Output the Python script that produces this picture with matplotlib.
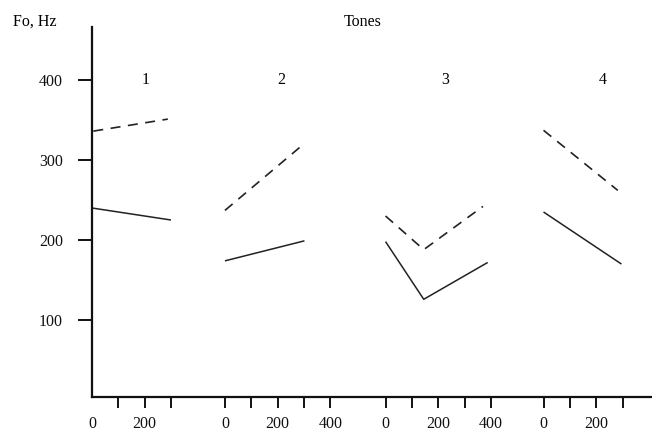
import numpy as np
import matplotlib
matplotlib.use("Agg")
import matplotlib.pyplot as plt

plt.rcParams['font.family'] = ['Liberation Serif', 'DejaVu Serif']

# time (ms within each tone) and Fo (Hz) for the two speakers
tone_names = ['1', '2', '3', '4']
group_offsets = [0, 505, 1115, 1715]

solid_t = [[0, 300], [0, 302], [0, 145, 388], [0, 296]]
solid_f = [[240, 225], [174, 199], [198, 126, 172], [235, 170]]
dashed_t = [[5, 288], [0, 296], [0, 145, 370], [0, 282]]
dashed_f = [[336, 351], [237, 319], [230, 188, 242], [337, 262]]

tick_sets = [[0, 100, 200, 300], [0, 100, 200, 300, 400],
             [0, 100, 200, 300, 400], [0, 100, 200, 300]]
label_pos = [203, 212, 228, 224]

fig = plt.figure(figsize=(6.52, 4.32), dpi=100)
ax = fig.add_axes([92 / 652, 35 / 432, 560 / 652, 370 / 432])

for i in range(4):
    off = group_offsets[i]
    ax.plot(np.array(solid_t[i]) + off, solid_f[i], color='#222222', lw=1.1,
            solid_capstyle='butt')
    ax.plot(np.array(dashed_t[i]) + off, dashed_f[i], color='#222222', lw=1.2,
            dashes=(6, 4.5))
    ax.text(label_pos[i] + off, 400, tone_names[i], ha='center', va='center',
            fontsize=11.5)

xt, xl = [], []
for i in range(4):
    for t in tick_sets[i]:
        xt.append(t + group_offsets[i])
        xl.append(str(t) if t % 200 == 0 else '')
ax.set_xticks(xt)
ax.set_xticklabels(xl)
ax.set_yticks([100, 200, 300, 400])

ax.set_xlim(0, 2127)
ax.set_ylim(4, 466)

for s in ['top', 'right']:
    ax.spines[s].set_visible(False)
for s in ['left', 'bottom']:
    ax.spines[s].set_linewidth(1.6)
    ax.spines[s].set_color('#111111')

ax.tick_params(axis='y', direction='out', length=10, width=1.4, pad=11,
               labelsize=11.5, colors='#111111')
ax.tick_params(axis='x', direction='out', length=8, width=1.4, pad=6,
               labelsize=11.5, colors='#111111')
# the tick at the origin is hidden under the corner in the original
ax.xaxis.get_major_ticks()[0].tick1line.set_visible(False)

fig.text(13 / 652, 1 - 22 / 432, 'Fo, Hz', ha='left', va='center', fontsize=11.5)
fig.text(363 / 652, 1 - 22 / 432, 'Tones', ha='center', va='center', fontsize=11.5)

fig.savefig('out.png', dpi=100)
